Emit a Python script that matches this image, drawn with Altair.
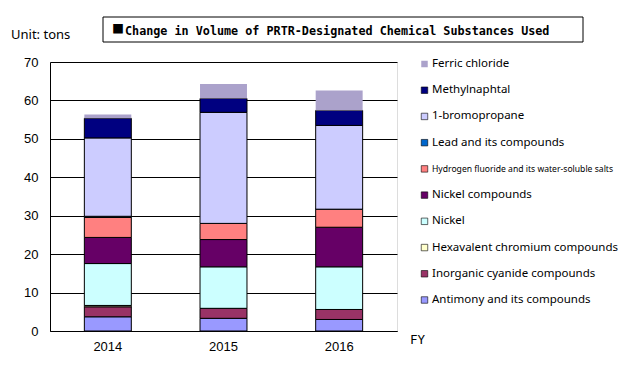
import altair as alt
import pandas as pd

years = ["2014", "2015", "2016"]
substances = [
    "Antimony and its compounds",
    "Inorganic cyanide compounds",
    "Hexavalent chromium compounds",
    "Nickel",
    "Nickel compounds",
    "Hydrogen fluoride and its water-soluble salts",
    "Lead and its compounds",
    "1-bromopropane",
    "Methylnaphtal",
    "Ferric chloride",
]
colors = ["#9999FF", "#993366", "#FFFFCC", "#CCFFFF", "#660066",
          "#FF8080", "#0066CC", "#CCCCFF", "#000080", "#ABA2CB"]

antimony = [3.7, 3.3, 3.0]
cyanide = [2.6, 2.6, 2.6]
chromium = [0.35, 0.0, 0.0]
nickel = [10.9, 10.8, 11.1]
nickel_compounds = [6.8, 7.1, 10.3]
hydrogen_fluoride = [5.2, 4.2, 4.7]
lead = [0.3, 0.0, 0.0]
bromopropane = [20.4, 28.9, 21.8]
methylnaphtal = [5.1, 3.6, 3.9]
ferric = [1.0, 3.8, 5.2]

series = [antimony, cyanide, chromium, nickel, nickel_compounds,
          hydrogen_fluoride, lead, bromopropane, methylnaphtal, ferric]

title_mark_glyph = "\u25a0"
title_text = "Change in Volume of PRTR-Designated Chemical Substances Used"
unit_text = "Unit: tons"
fy_text = "FY"

rows = []
for i, (name, vals) in enumerate(zip(substances, series)):
    for y, v in zip(years, vals):
        rows.append({"year": y, "substance": name, "value": v, "idx": i})
df = pd.DataFrame(rows)

color_scale = alt.Scale(domain=substances, range=colors)
no_stroke = alt.datum.substance == "Ferric chloride"

bars = alt.Chart(df).mark_bar(stroke="black").encode(
    x=alt.X("year:N", sort=years,
            scale=alt.Scale(paddingInner=0.594, paddingOuter=0.297),
            axis=alt.Axis(title=None, labelAngle=0, ticks=False, labelPadding=9,
                          labelFontSize=13, labelFont="Liberation Sans",
                          labelColor="black", domainColor="black", grid=False)),
    y=alt.Y("value:Q", stack="zero",
            scale=alt.Scale(domain=[0, 70], nice=False),
            axis=alt.Axis(title=None, values=list(range(0, 80, 10)), ticks=False,
                          labelPadding=12, labelFontSize=13, labelFont="Liberation Sans",
                          labelColor="black", gridColor="black", gridOpacity=1,
                          domainColor="black")),
    color=alt.Color("substance:N", scale=color_scale, legend=None),
    order=alt.Order("idx:Q"),
    strokeWidth=alt.condition(no_stroke, alt.value(0), alt.value(1)),
)

one = pd.DataFrame({"k": [0]})

title_box = alt.Chart(one).mark_rect(fill="white", stroke="black", strokeWidth=1).encode(
    x=alt.value(53), x2=alt.value(533), y=alt.value(-45), y2=alt.value(-20))

title_glyph = alt.Chart(one).mark_text(
    align="left", baseline="middle", font="Noto Sans CJK JP",
    fontSize=12, color="black").encode(
    x=alt.value(62), y=alt.value(-32), text=alt.value(title_mark_glyph))

title_mark = alt.Chart(one).mark_text(
    align="left", baseline="middle", font="DejaVu Sans Mono", fontWeight="bold",
    fontSize=11.75, color="black").encode(
    x=alt.value(75), y=alt.value(-31.5), text=alt.value(title_text))

unit_mark = alt.Chart(one).mark_text(
    align="left", baseline="middle", font="Noto Sans", fontSize=13, color="black").encode(
    x=alt.value(-39), y=alt.value(-27), text=alt.value(unit_text))

fy_mark = alt.Chart(one).mark_text(
    align="left", baseline="middle", font="DejaVu Sans Mono", fontSize=12.5, color="black").encode(
    x=alt.value(360), y=alt.value(278), text=alt.value(fy_text))

leg_df = pd.DataFrame({"substance": substances})
leg_y = alt.Y("substance:N",
              scale=alt.Scale(type="point", domain=substances[::-1], range=[2, 238], padding=0),
              axis=None)

leg_sq = alt.Chart(leg_df).mark_square(size=42, stroke="black", opacity=1).encode(
    x=alt.value(374.5), y=leg_y,
    color=alt.Color("substance:N", scale=color_scale, legend=None),
    strokeWidth=alt.condition(no_stroke, alt.value(0), alt.value(0.6)),
)

leg_tx = alt.Chart(leg_df).mark_text(
    align="left", baseline="middle", font="Noto Sans", color="black").encode(
    x=alt.value(382), y=leg_y, text="substance:N",
    size=alt.condition(alt.datum.substance == substances[5], alt.value(8.6), alt.value(11.5)),
)

chart = alt.layer(bars, title_box, title_glyph, title_mark, unit_mark, fy_mark, leg_sq, leg_tx).resolve_scale(
    y="independent"
).properties(
    width=347, height=269,
    autosize=alt.AutoSizeParams(type="none"),
    padding={"left": 42, "top": 54, "right": 232, "bottom": 40},
).configure_view(fill="#C0C0C0", stroke="#808080").configure(background="white")

chart.save("out.html", embed_options={"renderer": "svg", "actions": False})
